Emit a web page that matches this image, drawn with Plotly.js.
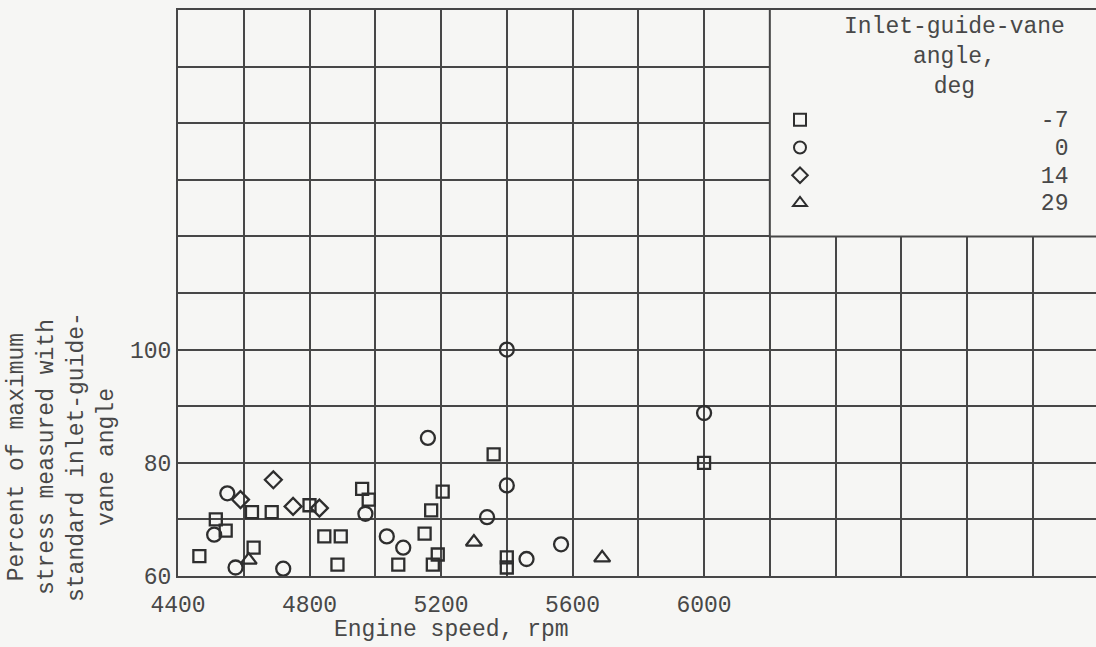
<!DOCTYPE html>
<html><head><meta charset="utf-8">
<script src="https://cdn.plot.ly/plotly-3.0.1.min.js"></script>
<style>html,body{margin:0;padding:0;background:#f6f6f4;}#chart{width:1096px;height:647px;}</style>
</head><body><div id="chart"></div>
<script>
// Inlet-guide-vane angle -7 deg (squares)
const speedM7  = [4465, 4515, 4545, 4625, 4630, 4685, 4800, 4845, 4895, 4885, 4960, 4980, 5070, 5150, 5170, 5175, 5190, 5205, 5360, 5400, 5400, 6000];
const stressM7 = [63.5, 70.0, 68.0, 71.3, 65.0, 71.3, 72.5, 67.0, 67.0, 62.0, 75.4, 73.5, 62.0, 67.5, 71.6, 62.0, 63.8, 74.9, 81.5, 63.3, 61.5, 80.0];
// 0 deg (circles)
const speed0  = [4510, 4550, 4575, 4720, 4970, 5035, 5085, 5160, 5340, 5400, 5400, 5460, 5565, 6000];
const stress0 = [67.3, 74.6, 61.5, 61.3, 71.0, 67.0, 65.0, 84.4, 70.4, 100.0, 76.0, 63.0, 65.6, 88.8];
// 14 deg (diamonds)
const speed14  = [4590, 4690, 4750, 4830];
const stress14 = [73.5, 77.0, 72.3, 72.0];
// 29 deg (triangles)
const speed29  = [4615, 5300, 5690];
const stress29 = [62.8, 66.0, 63.2];

const seriesNames = ['-7', '0', '14', '29'];
const xTickVals = [4400, 4800, 5200, 5600, 6000];
const yTickVals = [60, 80, 100];

const ink = '#2e2e2e';
const gridInk = '#474747';
const textInk = '#484848';
const bg = '#f6f6f4';
const mono = 'Liberation Mono, DejaVu Sans Mono, monospace';
const FS = 23;
function padName(s) {
  return '<span style="font-size:' + FS + 'px">' + '\u00a0'.repeat(18 - s.length) + s + '</span>';
}

function series(x, y, name, symbol, size) {
  return {
    type: 'scatter', mode: 'markers', x: x, y: y, name: padName(name),
    marker: { symbol: symbol, size: size, color: ink, line: { color: ink, width: 2.3 } },
    hoverinfo: 'x+y'
  };
}

const data = [
  series(speedM7, stressM7, seriesNames[0], 'square-open', 12),
  series(speed0, stress0, seriesNames[1], 'circle-open', 14),
  series(speed14, stress14, seriesNames[2], 'diamond-open', 13),
  series(speed29, stress29, seriesNames[3], 'triangle-up-open', 14)
];

const layout = {
  width: 1096, height: 647,
  paper_bgcolor: bg, plot_bgcolor: bg,
  margin: { l: 178, r: 0, t: 10, b: 71, pad: 0 },
  font: { family: mono, size: FS, color: textInk },
  showlegend: true,
  legend: {
    x: (780 - 178) / 918, xanchor: 'left',
    y: (576 - 101) / 566, yanchor: 'top',
    bgcolor: 'rgba(0,0,0,0)', borderwidth: 0,
    font: { family: mono, size: 19, color: textInk },
    itemsizing: 'constant', itemclick: false
  },
  xaxis: {
    range: [4400, 7192],
    tickmode: 'array', tickvals: xTickVals, ticktext: xTickVals.map(String),
    showgrid: true, gridcolor: gridInk, gridwidth: 2,
    minor: { tickmode: 'linear', tick0: 4400, dtick: 200, showgrid: true, gridcolor: gridInk, gridwidth: 2, ticks: '' },
    zeroline: false, showline: true, linecolor: gridInk, linewidth: 2, mirror: true,
    ticks: '', ticklabelstandoff: 6,
    tickfont: { family: mono, size: FS, color: textInk }
  },
  yaxis: {
    range: [60, 160],
    tickmode: 'array', tickvals: yTickVals, ticktext: yTickVals.map(String),
    showgrid: true, gridcolor: gridInk, gridwidth: 2,
    minor: { tickmode: 'linear', tick0: 60, dtick: 10, showgrid: true, gridcolor: gridInk, gridwidth: 2, ticks: '' },
    zeroline: false, showline: true, linecolor: gridInk, linewidth: 2, mirror: true,
    ticks: '', ticklabelstandoff: 0,
    tickfont: { family: mono, size: FS, color: textInk }
  },
  shapes: [{
    type: 'rect', xref: 'x', yref: 'y', x0: 6200, x1: 7300, y0: 120, y1: 170,
    layer: 'between', fillcolor: bg, line: { color: gridInk, width: 2 }
  }],
  annotations: [
    {
      text: 'Percent of maximum<br>stress measured with<br>standard inlet-guide-<br>vane angle',
      xref: 'paper', yref: 'paper', x: (62 - 178) / 918, y: (576 - 457) / 566,
      xanchor: 'center', yanchor: 'middle', textangle: -90, align: 'center', showarrow: false,
      font: { family: mono, size: FS, color: textInk }
    },
    {
      text: 'Engine speed, rpm',
      xref: 'paper', yref: 'paper', x: (451 - 178) / 918, y: (576 - 630) / 566,
      xanchor: 'center', yanchor: 'middle', showarrow: false,
      font: { family: mono, size: FS, color: textInk }
    },
    {
      text: 'Inlet-guide-vane<br>angle,<br>deg',
      xref: 'paper', yref: 'paper', x: (954 - 178) / 918, y: (576 - 12) / 566,
      xanchor: 'center', yanchor: 'top', align: 'center', showarrow: false,
      font: { family: mono, size: FS, color: textInk }
    }
  ]
};

Plotly.newPlot('chart', data, layout, { displayModeBar: false, staticPlot: true });
</script>
</body></html>
